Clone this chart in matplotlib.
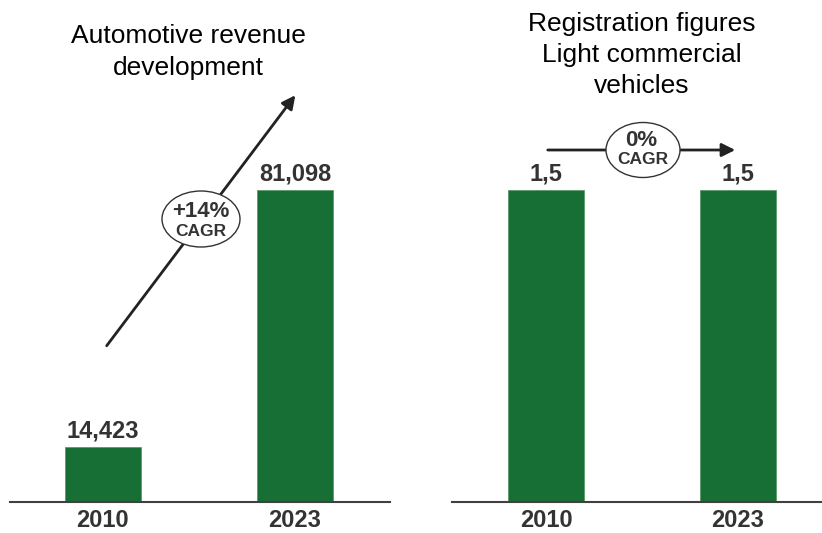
import matplotlib
matplotlib.use("Agg")
import matplotlib.pyplot as plt
from matplotlib.patches import Ellipse, FancyArrowPatch

plt.rcParams['font.family'] = ['Liberation Sans', 'DejaVu Sans']

years = ["2010", "2023"]
revenue = [14423, 81098]
revenue_labels = ["14,423", "81,098"]
registrations = [1.5, 1.5]
registration_labels = ["1,5", "1,5"]

W, H = 822, 533
fig = plt.figure(figsize=(W / 100, H / 100), dpi=100)

def px(x, y):
    return x / W, 1 - y / H

green = "#186f36"
dark = "#333333"

def make_axes(left, right, top, bottom):
    ax = fig.add_axes([left / W, 1 - bottom / H, (right - left) / W, (bottom - top) / H])
    for s in ["top", "right", "left"]:
        ax.spines[s].set_visible(False)
    ax.spines["bottom"].set_color("#404040")
    ax.spines["bottom"].set_linewidth(1.5)
    ax.set_yticks([])
    ax.tick_params(axis="x", length=0, pad=5)
    return ax

# left panel
ax1 = make_axes(10, 390, 100, 502)
x = [0, 1]
ax1.bar(x, revenue, width=0.396, color=green, edgecolor="#5a9a6a", linewidth=0.6)
ax1.set_xlim(-0.484, 1.495)
ax1.set_ylim(0, 81098 * 402 / 312)
ax1.set_xticks(x)
ax1.set_xticklabels(years, fontsize=17, fontweight="bold", color=dark)
for xi, v, lab in zip(x, revenue, revenue_labels):
    ax1.annotate(lab, (xi, v), xytext=(0, 3), textcoords="offset points",
                 ha="center", va="bottom", fontsize=17, fontweight="bold", color=dark)

# right panel
ax2 = make_axes(452, 822, 100, 502)
ax2.bar(x, registrations, width=0.396, color=green, edgecolor="#5a9a6a", linewidth=0.6)
ax2.set_xlim(-0.49, 1.4375)
ax2.set_ylim(0, 1.5 * 402 / 312)
ax2.set_xticks(x)
ax2.set_xticklabels(years, fontsize=17, fontweight="bold", color=dark)
for xi, v, lab in zip(x, registrations, registration_labels):
    ax2.annotate(lab, (xi, v), xytext=(0, 3), textcoords="offset points",
                 ha="center", va="bottom", fontsize=17, fontweight="bold", color=dark)

# titles
fig.text(*px(188, 52), "Automotive revenue\ndevelopment", ha="center", va="center",
         fontsize=19, color="black", linespacing=1.38)
fig.text(*px(642, 55), "Registration figures\nLight commercial\nvehicles", ha="center",
         va="center", fontsize=19, color="black", linespacing=1.38)

# arrows
a1 = FancyArrowPatch(px(105, 348), px(297, 93), transform=fig.transFigure,
                     arrowstyle="-|>,head_length=8,head_width=4", color="#222222",
                     linewidth=2, mutation_scale=1)
fig.add_artist(a1)
a2 = FancyArrowPatch(px(545, 150), px(738, 150), transform=fig.transFigure,
                     arrowstyle="-|>,head_length=8,head_width=4", color="#222222",
                     linewidth=2, mutation_scale=1)
fig.add_artist(a2)

# ellipses
e1 = Ellipse(px(201, 219), 78 / W, 56 / H, transform=fig.transFigure,
             facecolor="white", edgecolor="#333333", linewidth=1.0)
fig.add_artist(e1)
fig.text(*px(201, 211), "+14%", ha="center", va="center", fontsize=16,
         fontweight="bold", color=dark)
fig.text(*px(201, 231), "CAGR", ha="center", va="center", fontsize=12.5,
         fontweight="bold", color=dark)

e2 = Ellipse(px(643, 150), 74 / W, 55 / H, transform=fig.transFigure,
             facecolor="white", edgecolor="#333333", linewidth=1.0)
fig.add_artist(e2)
fig.text(*px(641, 141), "0%", ha="center", va="center", fontsize=16,
         fontweight="bold", color=dark)
fig.text(*px(643, 160), "CAGR", ha="center", va="center", fontsize=12.5,
         fontweight="bold", color=dark)

fig.savefig("out.png", dpi=100)
